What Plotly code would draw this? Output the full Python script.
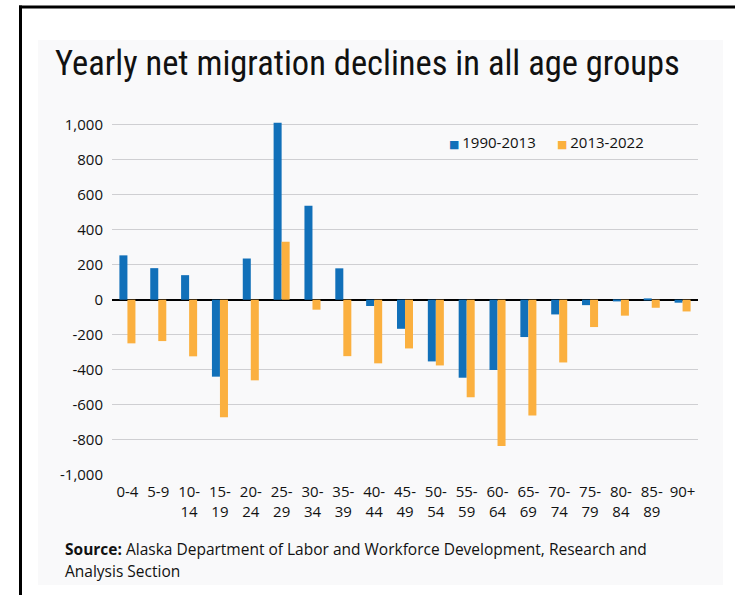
import plotly.graph_objects as go

# Age groups and yearly net migration by period
age_groups = ["0-4", "5-9", "10-14", "15-19", "20-24", "25-29", "30-34", "35-39",
              "40-44", "45-49", "50-54", "55-59", "60-64", "65-69", "70-74",
              "75-79", "80-84", "85-89", "90+"]
tick_text = ["0-4", "5-9", "10-<br>14", "15-<br>19", "20-<br>24", "25-<br>29",
             "30-<br>34", "35-<br>39", "40-<br>44", "45-<br>49", "50-<br>54",
             "55-<br>59", "60-<br>64", "65-<br>69", "70-<br>74", "75-<br>79",
             "80-<br>84", "85-<br>89", "90+"]
net_1990_2013 = [253, 180, 140, -439, 235, 1010, 536, 179, -36, -166, -352,
                 -445, -401, -213, -84, -31, -8, 4, -17]
net_2013_2022 = [-249, -236, -323, -671, -460, 331, -57, -322, -363, -278,
                 -375, -557, -835, -660, -358, -156, -91, -46, -67]
y_ticks = [-1000, -800, -600, -400, -200, 0, 200, 400, 600, 800, 1000]
y_tick_text = ["-1,000", "-800", "-600", "-400", "-200", "0", "200", "400",
               "600", "800", "1,000"]
series_names = ["1990-2013", "2013-2022"]

W, H = 735, 595
BLUE = "#1170b9"
ORANGE = "#fbb03f"
TXT = "#111111"
BODY_FONT = "Open Sans, DejaVu Sans, sans-serif"
TITLE_FONT = "Roboto Condensed, Liberation Sans Narrow, DejaVu Sans Condensed, Roboto, sans-serif"


def px_x(v):
    return v / W


def px_y(v):
    return 1 - v / H


fig = go.Figure()
fig.add_trace(go.Bar(x=age_groups, y=net_1990_2013, name=series_names[0],
                     marker=dict(color=BLUE, line=dict(width=0))))
fig.add_trace(go.Bar(x=age_groups, y=net_2013_2022, name=series_names[1],
                     marker=dict(color=ORANGE, line=dict(width=0))))

fig.update_layout(
    width=W, height=H,
    margin=dict(l=0, r=0, t=0, b=0),
    paper_bgcolor="white",
    plot_bgcolor="rgba(0,0,0,0)",
    barmode="group",
    bargap=0.48,
    bargroupgap=0,
    font=dict(family=BODY_FONT, size=15, color=TXT),
    showlegend=False,
    xaxis=dict(domain=[px_x(112), px_x(698)], tickmode="array",
               tickvals=age_groups, ticktext=tick_text, showgrid=False,
               showline=False, ticks="", tickangle=0, ticklabelstandoff=6,
               tickfont=dict(size=15, color=TXT), fixedrange=True,
               automargin=False),
    yaxis=dict(domain=[px_y(475), px_y(117.4)], range=[-1000, 1040],
               tickmode="array", tickvals=y_ticks, ticktext=y_tick_text,
               showgrid=True, gridcolor="#cfcfd2", gridwidth=1,
               zeroline=True, zerolinecolor="#000000", zerolinewidth=1.5,
               showline=False, ticks="", ticklabelstandoff=8,
               tickfont=dict(size=15, color=TXT), fixedrange=True,
               automargin=False),
)

# Light panel behind the chart and the framing lines
fig.add_shape(type="rect", xref="paper", yref="paper",
              x0=px_x(38), x1=px_x(723), y0=px_y(585), y1=px_y(40),
              fillcolor="#f9f9fa", line=dict(width=0), layer="below")
fig.add_shape(type="line", xref="paper", yref="paper",
              x0=px_x(19), x1=px_x(735), y0=px_y(7), y1=px_y(7),
              line=dict(color="black", width=3))
fig.add_shape(type="line", xref="paper", yref="paper",
              x0=px_x(20.5), x1=px_x(20.5), y0=px_y(595), y1=px_y(5.5),
              line=dict(color="black", width=3))

# Legend entries: small colour square followed by the period label
for name, color, x_left in [(series_names[0], BLUE, 447), (series_names[1], ORANGE, 555)]:
    fig.add_annotation(text=f"<span style='color:{color};font-size:11px'>■ </span>{name}",
                       xref="paper", yref="paper", x=px_x(x_left), y=px_y(142),
                       xanchor="left", yanchor="middle", showarrow=False,
                       font=dict(family=BODY_FONT, size=15, color=TXT))

fig.add_annotation(text="Yearly net migration declines in all age groups",
                   xref="paper", yref="paper", x=px_x(53), y=px_y(63.5),
                   xanchor="left", yanchor="middle", showarrow=False,
                   font=dict(family=TITLE_FONT, size=34.5, color="#111111"))
fig.add_annotation(text="<b>Source:</b> Alaska Department of Labor and Workforce Development, Research and",
                   xref="paper", yref="paper", x=px_x(63), y=px_y(549),
                   xanchor="left", yanchor="middle", align="left", showarrow=False,
                   font=dict(family=BODY_FONT, size=15.5, color=TXT))
fig.add_annotation(text="Analysis Section",
                   xref="paper", yref="paper", x=px_x(63), y=px_y(571),
                   xanchor="left", yanchor="middle", align="left", showarrow=False,
                   font=dict(family=BODY_FONT, size=15.5, color=TXT))

fig.write_html("out.html")
